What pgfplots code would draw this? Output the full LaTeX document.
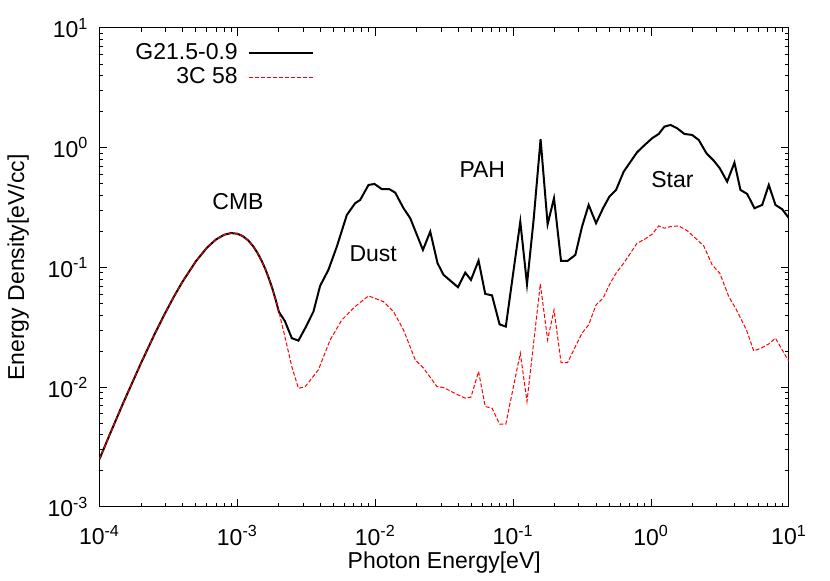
\documentclass[border=0pt]{standalone}
\usepackage{fontspec}
\setmainfont{Liberation Sans}
\usepackage{pgfplots}
\pgfplotsset{compat=1.18}
\newcommand\ff{\fontsize{11.5}{13.8}\selectfont}

\begin{document}
\begin{tikzpicture}[font=\ff]
\begin{axis}[
    scale only axis,
    width=344.75pt, height=239.5pt,
    xmode=log, ymode=log,
    log basis x=10, log basis y=10,
    xmin=1e-4, xmax=10, ymin=1e-3, ymax=10,
    xlabel={Photon Energy[eV]},
    ylabel={Energy Density[eV/cc]},
    xlabel style={at={(axis description cs:0.5,-0.115)}, anchor=center},
    ylabel style={at={(axis description cs:-0.118,0.5)}, anchor=center},
    label style={font=\ff},
    tick label style={font=\ff},
    xticklabel style={yshift=-5.5pt},
    yticklabel style={xshift=-2pt},
    xticklabel={10\textsuperscript{\pgfmathprintnumber[fixed,precision=0,assume math mode=true]{\tick}}},
    yticklabel={10\textsuperscript{\pgfmathprintnumber[fixed,precision=0,assume math mode=true]{\tick}}},
    tick align=inside,
    major tick length=4pt, minor tick length=2pt,
    every tick/.style={black, line width=0.5pt},
    axis line style={line width=0.5pt},
    legend style={draw=none, fill=none, font=\ff, at={(0.32,0.985)}, anchor=north east,
        row sep=-1.5pt, column sep=3pt},
    legend cell align=right,
    legend plot pos=right,
    legend image code/.code={\draw[#1] (0pt,0pt) -- (32pt,0pt);},
]
% G21.5-0.9 (CMB + dust + PAH + stars)
\addplot[black, line width=1pt] coordinates {
(1e-4,0.00251) (1.2e-4,0.00416) (1.5e-4,0.00757) (2e-4,0.0159) (2.5e-4,0.0275)
(3e-4,0.0418) (3.5e-4,0.0583) (4e-4,0.0761) (5e-4,0.1127) (6e-4,0.1459)
(7e-4,0.1715) (8e-4,0.1875) (9e-4,0.1939) (1e-3,0.1914) (1.1e-3,0.1822)
(1.2e-3,0.168) (1.3e-3,0.1508) (1.4e-3,0.1322) (1.5e-3,0.1137) (1.6e-3,0.0961)
(1.7e-3,0.0799) (1.8e-3,0.0657) (1.9e-3,0.0532) (2e-3,0.0426)
(2.21e-3,0.0357) (2.48e-3,0.0257) (2.77e-3,0.0245) (3.10e-3,0.0311) (3.56e-3,0.0428)
(3.98e-3,0.0702) (4.57e-3,0.0955) (5.26e-3,0.1494) (6.22e-3,0.2748) (7.14e-3,0.344)
(7.77e-3,0.3666) (8.93e-3,0.489) (9.87e-3,0.4985) (0.01117,0.4503) (0.01268,0.4503)
(0.01395,0.4218) (0.01602,0.3126) (0.01792,0.258) (0.02215,0.1403) (0.02503,0.1994)
(0.02828,0.1086) (0.03126,0.0868) (0.03976,0.0685) (0.0449,0.0907) (0.0494,0.0788)
(0.0561,0.1142) (0.0627,0.0602) (0.0702,0.0585) (0.0797,0.0335) (0.0884,0.0321)
(0.1126,0.2415) (0.1259,0.0725) (0.1406,0.2495) (0.158,1.178) (0.1777,0.2298)
(0.1977,0.379) (0.2223,0.1135) (0.2481,0.1135) (0.2823,0.1274) (0.3157,0.2195)
(0.3525,0.333) (0.399,0.2343) (0.4484,0.3126) (0.4981,0.3906) (0.557,0.4443)
(0.6327,0.6317) (0.7914,0.917) (0.899,1.055) (1.017,1.2) (1.136,1.304)
(1.249,1.5) (1.381,1.55) (1.544,1.455) (1.745,1.304) (1.984,1.279)
(2.215,1.162) (2.519,0.8995) (2.847,0.7803) (3.147,0.6744) (3.561,0.5212)
(4.022,0.751) (4.446,0.4443) (4.974,0.4116) (5.617,0.3126) (6.391,0.333)
(7.135,0.489) (7.98,0.333) (8.926,0.3066) (10,0.258)
};
\addlegendentry{G21.5-0.9}
% 3C 58
\addplot[red, line width=0.5pt, dash pattern=on 2pt off 1pt] coordinates {
(1e-4,0.00251) (1.2e-4,0.00416) (1.5e-4,0.00757) (2e-4,0.0159) (2.5e-4,0.0275)
(3e-4,0.0418) (3.5e-4,0.0583) (4e-4,0.0761) (5e-4,0.1127) (6e-4,0.1459)
(7e-4,0.1715) (8e-4,0.1875) (9e-4,0.1939) (1e-3,0.1914) (1.1e-3,0.1822)
(1.2e-3,0.168) (1.3e-3,0.1508) (1.4e-3,0.1322) (1.5e-3,0.1137) (1.6e-3,0.0961)
(1.7e-3,0.0799) (1.8e-3,0.0657) (1.9e-3,0.0532) (2e-3,0.0426)
(2.21e-3,0.0265) (2.48e-3,0.0149) (2.77e-3,0.0098) (3.10e-3,0.0101) (3.87e-3,0.0140)
(4.71e-3,0.0249) (5.72e-3,0.0365) (7.14e-3,0.0472) (8.93e-3,0.0579) (0.01147,0.0519)
(0.01355,0.0428) (0.01602,0.0301) (0.01949,0.01693) (0.02238,0.01443) (0.02799,0.01013)
(0.03126,0.00994) (0.03976,0.00864) (0.0449,0.00811) (0.0494,0.00827) (0.0561,0.01352)
(0.0627,0.0069) (0.0702,0.00669) (0.0797,0.00493) (0.0884,0.00493) (0.1126,0.01926)
(0.1259,0.0076) (0.1573,0.0729) (0.1777,0.02487) (0.1977,0.0443) (0.2223,0.01608)
(0.2481,0.01608) (0.2823,0.02186) (0.3157,0.0283) (0.3525,0.0332) (0.399,0.0487)
(0.4484,0.0554) (0.4981,0.0716) (0.557,0.0897) (0.6327,0.1086) (0.7914,0.1595)
(0.899,0.1722) (1.017,0.1897) (1.136,0.2225) (1.249,0.2128) (1.381,0.2195)
(1.586,0.2225) (1.825,0.2032) (2.097,0.1757) (2.408,0.1515) (2.772,0.1051)
(3.147,0.0897) (3.657,0.0572) (4.159,0.0443) (4.916,0.0301) (5.553,0.0201)
(6.285,0.0212) (7.135,0.0230) (7.98,0.0257) (8.926,0.0205) (10,0.0164)
};
\addlegendentry{3C 58}

\node at (axis cs:1.01e-3,0.353) {CMB};
\node at (axis cs:9.66e-3,0.13) {Dust};
\node at (axis cs:0.0597,0.653) {PAH};
\node at (axis cs:1.427,0.538) {Star};
\end{axis}
\pgfresetboundingbox
\path[use as bounding box] ([shift={(-49.75pt,-37pt)}]current axis.south west)
    rectangle ([shift={(20.5pt,14pt)}]current axis.north east);
\end{tikzpicture}
\end{document}
